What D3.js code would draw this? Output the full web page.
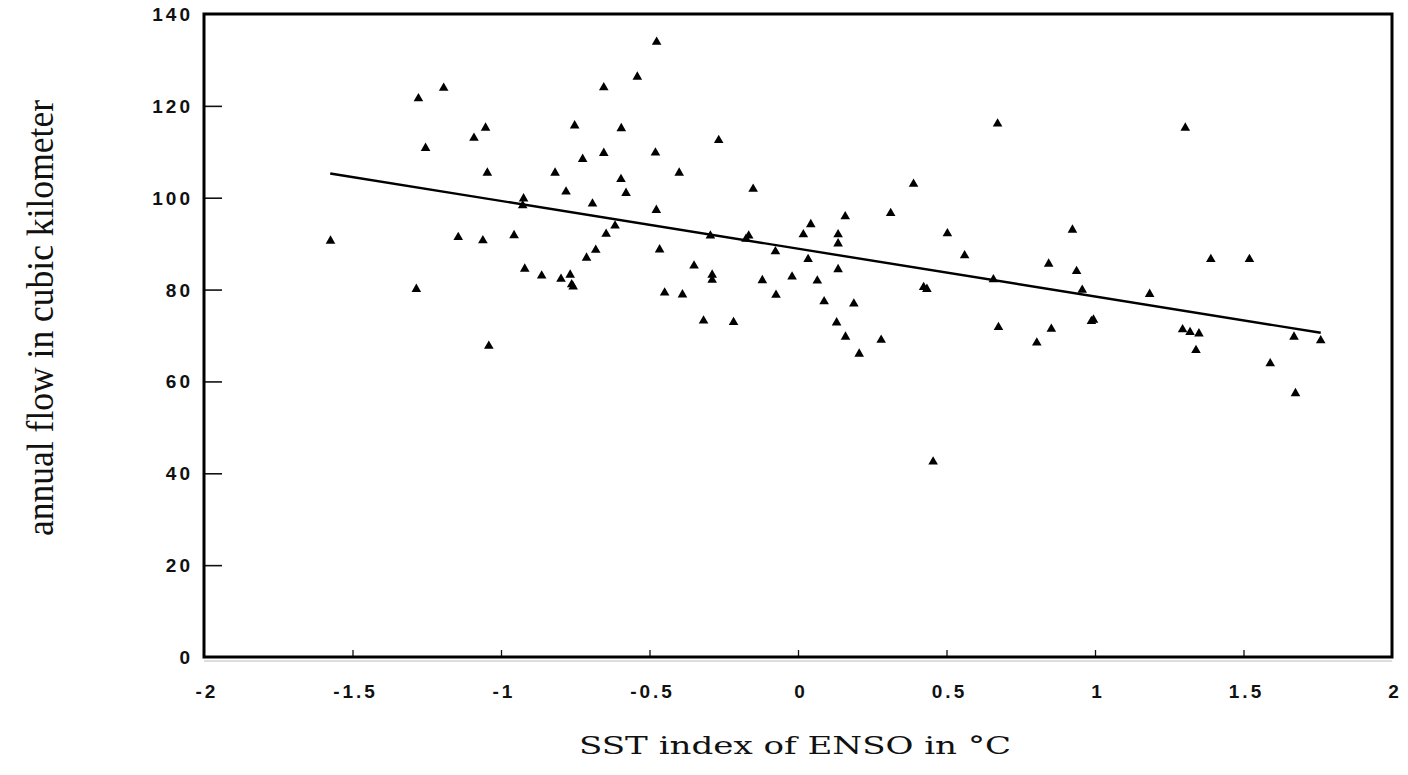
<!DOCTYPE html>
<html>
<head>
<meta charset="utf-8">
<script src="https://cdn.jsdelivr.net/npm/d3@7"></script>
<style>
  body { margin: 0; background: #fff; }
  .tick-label { font-family: "Liberation Sans", Arial, sans-serif; font-size: 19px; font-weight: bold; letter-spacing: 3px; fill: #111; }
</style>
</head>
<body>
<div id="chart"></div>
<script>
// SST index of ENSO (°C) and annual flow (km³)
const sstIndex = [
  -1.574, -1.278, -1.193, -1.285, -1.254, -1.091, -1.052, -1.046, -1.144, -1.061,
  -1.041, -0.956, -0.924, -0.927, -0.920, -0.863, -0.818, -0.781, -0.798, -0.767,
  -0.762, -0.757, -0.752, -0.725, -0.712, -0.692, -0.681, -0.654, -0.654, -0.646,
  -0.616, -0.595, -0.596, -0.579, -0.541, -0.476, -0.480, -0.477, -0.466, -0.449,
  -0.400, -0.389, -0.350, -0.318, -0.295, -0.289, -0.289, -0.267, -0.217, -0.166,
  -0.151, -0.175, -0.120, -0.076, -0.074, -0.020, 0.018, 0.043, 0.034, 0.065,
  0.088, 0.135, 0.135, 0.159, 0.135, 0.188, 0.130, 0.160, 0.206, 0.280,
  0.312, 0.389, 0.423, 0.434, 0.455, 0.503, 0.561, 0.658, 0.672, 0.675,
  0.804, 0.844, 0.853, 0.924, 0.938, 0.957, 0.988, 0.995, 1.184, 1.304,
  1.390, 1.520, 1.295, 1.320, 1.350, 1.340, 1.670, 1.760, 1.590, 1.675
];
const annualFlow = [
  90.6, 121.6, 123.9, 80.1, 110.8, 113.0, 115.2, 105.4, 91.4, 90.7,
  67.7, 91.8, 99.8, 98.3, 84.5, 83.0, 105.4, 101.3, 82.3, 83.2,
  81.1, 80.6, 115.7, 108.4, 86.9, 98.7, 88.6, 124.0, 109.7, 92.1,
  93.9, 115.1, 104.0, 101.0, 126.3, 133.9, 109.8, 97.3, 88.7, 79.3,
  105.4, 78.9, 85.2, 73.2, 91.7, 83.2, 82.1, 112.5, 72.9, 91.7,
  101.9, 91.0, 82.0, 88.3, 78.8, 82.8, 92.0, 94.2, 86.6, 81.9,
  77.4, 92.0, 90.0, 95.9, 84.4, 76.9, 72.8, 69.7, 66.0, 69.0,
  96.6, 103.0, 80.5, 80.1, 42.5, 92.2, 87.4, 82.2, 116.1, 71.8,
  68.4, 85.6, 71.4, 93.0, 84.0, 79.9, 73.1, 73.4, 79.0, 115.2,
  86.6, 86.6, 71.3, 70.7, 70.4, 66.8, 69.7, 68.9, 63.9, 57.4
];
// regression line
const fitRange = [-1.575, 1.76];
const fitIntercept = 88.9;
const fitSlope = -10.4;

const xTicks = [-2, -1.5, -1, -0.5, 0, 0.5, 1, 1.5, 2];
const yTicks = [0, 20, 40, 60, 80, 100, 120, 140];

const width = 1408, height = 775;
const plot = { left: 204, right: 1392, top: 14, bottom: 657 };

const svg = d3.select("#chart").append("svg")
  .attr("width", width)
  .attr("height", height);

const x = d3.scaleLinear().domain([-2, 2]).range([plot.left, plot.right]);
const y = d3.scaleLinear().domain([0, 140]).range([plot.bottom, plot.top]);

// faint scan line under the x axis
svg.append("line")
  .attr("x1", plot.left).attr("x2", plot.right)
  .attr("y1", plot.bottom + 4).attr("y2", plot.bottom + 4)
  .style("stroke", "#bbb").style("stroke-width", 1);

// y ticks (inside)
const yAxis = d3.axisRight(y).tickValues(yTicks.slice(1, -1)).tickSize(18).tickFormat("");
svg.append("g")
  .attr("transform", `translate(${plot.left},0)`)
  .call(yAxis)
  .call(g => g.select(".domain").remove())
  .call(g => g.selectAll("line").style("stroke", "#111").style("stroke-width", 1.6));

// x ticks (inside, short)
const xAxis = d3.axisTop(x).tickValues(xTicks.slice(1, -1)).tickSize(7).tickFormat("");
svg.append("g")
  .attr("transform", `translate(0,${plot.bottom})`)
  .call(xAxis)
  .call(g => g.select(".domain").remove())
  .call(g => g.selectAll("line").style("stroke", "#111").style("stroke-width", 1.3));

// frame
svg.append("rect")
  .attr("x", plot.left).attr("y", plot.top)
  .attr("width", plot.right - plot.left)
  .attr("height", plot.bottom - plot.top)
  .style("fill", "none")
  .style("stroke", "#000")
  .style("stroke-width", 3);

// tick labels
svg.selectAll(".ylab").data(yTicks).enter().append("text")
  .attr("class", "tick-label")
  .attr("x", 193)
  .attr("y", d => y(d) + 7)
  .attr("text-anchor", "end")
  .text(d => d);

svg.selectAll(".xlab").data(xTicks).enter().append("text")
  .attr("class", "tick-label")
  .attr("x", d => x(d) + 3)
  .attr("y", 698)
  .attr("text-anchor", "middle")
  .text(d => d);

// regression line
const line = d3.line().x(d => x(d)).y(d => y(fitIntercept + fitSlope * d));
svg.append("path")
  .datum(fitRange)
  .attr("d", line)
  .style("fill", "none")
  .style("stroke", "#000")
  .style("stroke-width", 2.4);

// points
const tri = d3.symbol().type(d3.symbolTriangle).size(40);
svg.selectAll(".dot")
  .data(sstIndex.map((v, i) => [v, annualFlow[i]]))
  .enter().append("path")
  .attr("class", "dot")
  .attr("d", tri)
  .attr("transform", d => `translate(${x(d[0])},${y(d[1])})`)
  .style("fill", "#000");

// axis titles
svg.append("text")
  .attr("x", 795)
  .attr("y", 754)
  .attr("text-anchor", "middle")
  .attr("textLength", 432)
  .attr("lengthAdjust", "spacingAndGlyphs")
  .style("font-family", "'DejaVu Serif', serif")
  .style("font-size", "24px")
  .style("fill", "#111")
  .text("SST index of ENSO in °C");

svg.append("text")
  .attr("transform", "translate(53,318) rotate(-90)")
  .attr("text-anchor", "middle")
  .attr("textLength", 436)
  .attr("lengthAdjust", "spacingAndGlyphs")
  .style("font-family", "'Liberation Serif', 'Times New Roman', serif")
  .style("font-size", "38px")
  .style("fill", "#111")
  .text("annual flow in cubic kilometer");
</script>
</body>
</html>
